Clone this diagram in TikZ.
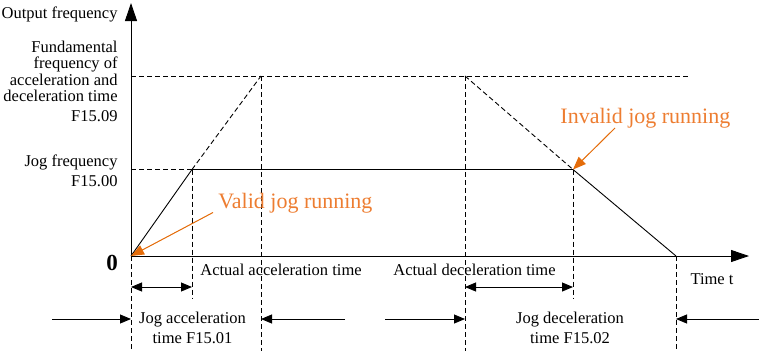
\documentclass[tikz,border=0pt]{standalone}
\usepackage{fontspec}
\setmainfont{Liberation Serif}
\usetikzlibrary{arrows.meta}
\definecolor{orangetxt}{RGB}{237,125,49}
\definecolor{orangearr}{RGB}{228,108,10}
\begin{document}
\begin{tikzpicture}[x=1pt,y=-1pt,line width=0.9pt,
  dsh/.style={dash pattern=on 5pt off 3pt},
  lbl/.style={font=\fontsize{16.5}{16.5}\selectfont,inner sep=0pt},
  olbl/.style={font=\fontsize{22}{24}\selectfont,text=orangetxt,inner sep=0pt},
  bigtip/.style={-{Triangle[length=18pt,width=12pt]}},
  smalltip/.style={-{Triangle[length=11pt,width=9pt]}},
  dbltip/.style={{Triangle[length=11pt,width=9pt]}-{Triangle[length=11pt,width=9pt]}},
  oarrow/.style={draw=orangearr,fill=orangearr,line width=1pt,-{Triangle[length=13pt,width=10pt]}}]
\useasboundingbox (0,0) rectangle (759,351);
% key points
\coordinate (O) at (131,256);
\coordinate (Ytop) at (131,3);
\coordinate (Xend) at (749,256);
\coordinate (J1) at (192,169.5);
\coordinate (J2) at (573,169.5);
\coordinate (E) at (676,256);
\coordinate (F1) at (261,76);
\coordinate (F2) at (465,76);
\coordinate (Fend) at (688,76);
\coordinate (Jy) at (131,169.5);
\coordinate (Fy) at (131,76);
% axes
\draw[bigtip] (O) -- (Ytop);
\draw[bigtip] (O) -- (Xend);
% dashed reference lines
\draw[dsh] (Fy) -- (Fend);
\draw[dsh] (Jy) -- (J1);
\draw[dsh] (J1) -- (F1);
\draw[dsh] (F2) -- (J2);
\coordinate (F1b) at (261,351);
\coordinate (F2b) at (465,351);
\coordinate (J1b) at (192,298);
\coordinate (J2b) at (573,298);
\coordinate (Ob) at (131,351);
\coordinate (Eb) at (676,351);
\draw[dsh] (F1) -- (F1b);
\draw[dsh] (F2) -- (F2b);
\draw[dsh] (J1) -- (J1b);
\draw[dsh] (J2) -- (J2b);
\draw[dsh] (O) -- (Ob);
\draw[dsh] (E) -- (Eb);
% jog curve
\draw (O) -- (J1) -- (J2) -- (E);
% dimension arrows
\coordinate (d1a) at (131,287);
\coordinate (d1b) at (192,287);
\coordinate (d2a) at (465,287);
\coordinate (d2b) at (573,287);
\draw[dbltip] (d1a) -- (d1b);
\draw[dbltip] (d2a) -- (d2b);
\coordinate (a1s) at (52,319);
\coordinate (a1e) at (131,319);
\coordinate (a2s) at (345,319);
\coordinate (a2e) at (261,319);
\coordinate (a3s) at (385,319);
\coordinate (a3e) at (465,319);
\coordinate (a4s) at (759,319);
\coordinate (a4e) at (676,319);
\draw[smalltip] (a1s) -- (a1e);
\draw[smalltip] (a2s) -- (a2e);
\draw[smalltip] (a3s) -- (a3e);
\draw[smalltip] (a4s) -- (a4e);
% labels
\node[lbl,anchor=base east] (outf) at (118,18) {Output frequency};
\node[lbl,anchor=base east,align=right] (fund) at (118,121) {Fundamental\\frequency of\\acceleration and\\deceleration time\\[3pt]F15.09};
\node[lbl,anchor=base east,align=right] (jogf) at (118,186.5) {Jog frequency\\[3.5pt]F15.00};
\node[inner sep=0pt,anchor=base,font=\fontsize{23}{25}\selectfont\bfseries] (zero) at (112,270.5) {0};
\node[lbl,anchor=base] (aat) at (281,275) {Actual acceleration time};
\node[lbl,anchor=base] (adt) at (474.5,275) {Actual deceleration time};
\node[lbl,anchor=base] (tt) at (712,284) {Time t};
\node[lbl,anchor=base,align=center,font=\fontsize{16.5}{20}\selectfont] (jat) at (192.5,343) {Jog acceleration\\time F15.01};
\node[lbl,anchor=base,align=center,font=\fontsize{16.5}{20}\selectfont] (jdt) at (570,343) {Jog deceleration\\time F15.02};
\node[olbl,anchor=base west] (valid) at (218,208) {Valid jog running};
\node[olbl,anchor=base west] (invalid) at (560,123) {Invalid jog running};
% orange pointers
\coordinate (vs) at (213,212.5);
\coordinate (is) at (615,128);
\draw[oarrow] (vs) -- (O);
\draw[oarrow] (is) -- (J2);
\end{tikzpicture}
\end{document}
